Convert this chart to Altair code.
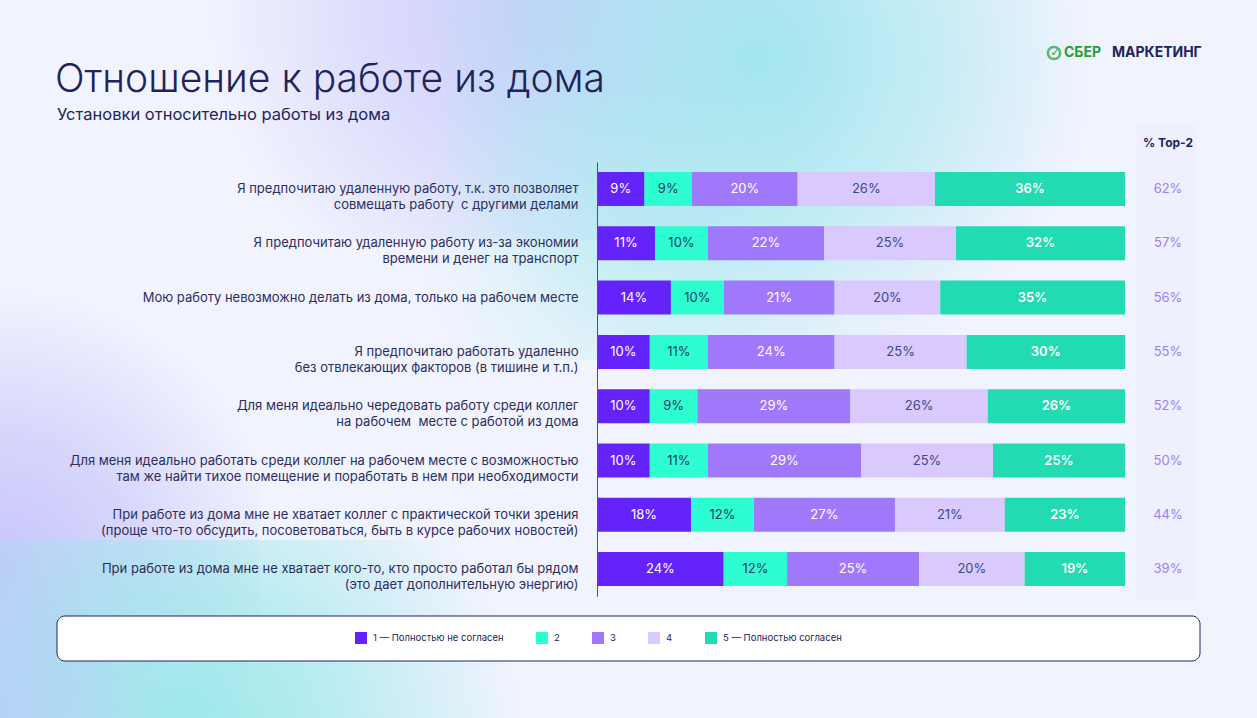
import altair as alt
import pandas as pd

# ---------------- data ----------------
statements = [
    "Я предпочитаю удаленную работу, т.к. это позволяет|совмещать работу\u00a0 с другими делами",
    "Я предпочитаю удаленную работу из-за экономии|времени и денег на транспорт",
    "Мою работу невозможно делать из дома, только на рабочем месте",
    "Я предпочитаю работать удаленно|без отвлекающих факторов (в тишине и т.п.)",
    "Для меня идеально чередовать работу среди коллег|на рабочем\u00a0 месте с работой из дома",
    "Для меня идеально работать среди коллег на рабочем месте с возможностью|там же найти тихое помещение и поработать в нем при необходимости",
    "При работе из дома мне не хватает коллег с практической точки зрения|(проще что-то обсудить, посоветоваться, быть в курсе рабочих новостей)",
    "При работе из дома мне не хватает кого-то, кто просто работал бы рядом|(это дает дополнительную энергию)",
]
answers = ["1 — Полностью не согласен", "2", "3", "4", "5 — Полностью согласен"]
s1 = [9, 11, 14, 10, 10, 10, 18, 24]
s2 = [9, 10, 10, 11, 9, 11, 12, 12]
s3 = [20, 22, 21, 24, 29, 29, 27, 25]
s4 = [26, 25, 20, 25, 26, 25, 21, 20]
s5 = [36, 32, 35, 30, 26, 25, 23, 19]
top2 = [62, 57, 56, 55, 52, 50, 44, 39]

colors = ["#6423fa", "#2dfdd0", "#a078fc", "#d9c9fd", "#23dbb2"]
text_colors = ["#ffffff", "#253a66", "#ffffff", "#3a4a8c", "#ffffff"]
NAVY = "#23235b"
LABEL = "#2e2e5e"
FONT = "Inter"

rows = []
for i, st in enumerate(statements):
    for k, series in enumerate([s1, s2, s3, s4, s5]):
        rows.append({"stmt": st, "answer": answers[k], "order": k,
                     "value": series[i], "tc": text_colors[k]})
df = pd.DataFrame(rows)
df_top = pd.DataFrame({"stmt": statements, "top2": top2})
one = pd.DataFrame({"a": [0]})

# ---------------- scales ----------------
yscale = alt.Scale(domain=statements, range=[161.85, 596.25],
                   paddingInner=0.374, paddingOuter=0.187)
xscale = alt.Scale(domain=[0, 1], range=[597, 1125])
cscale = alt.Scale(domain=answers, range=colors)

# ---------------- background ----------------
def blob(cx, cy, rx, ry, rgb, a):
    grad = alt.RadialGradient(
        gradient="radial",
        stops=[alt.GradientStop(offset=0, color=f"rgba({rgb},{a})"),
               alt.GradientStop(offset=0.5, color=f"rgba({rgb},{a * 0.6:.3f})"),
               alt.GradientStop(offset=1, color=f"rgba({rgb},0)")],
        x1=0.5, y1=0.5, r1=0, x2=0.5, y2=0.5, r2=0.5)
    return alt.Chart(one).mark_rect(fill=grad, strokeWidth=0).encode(
        x=alt.value(cx - rx), x2=alt.value(cx + rx),
        y=alt.value(cy - ry), y2=alt.value(cy + ry))

bg = [
    alt.Chart(one).mark_rect(fill="#f1f3fe").encode(
        x=alt.value(0), x2=alt.value(1257), y=alt.value(0), y2=alt.value(718)),
    blob(540, 10, 330, 230, "200,200,250", 0.9),
    blob(760, 60, 330, 300, "160,230,238", 0.95),
    blob(640, 230, 220, 130, "175,236,240", 0.5),
    blob(0, 570, 260, 280, "190,188,250", 0.85),
    blob(190, 740, 330, 200, "150,232,232", 0.95),
    blob(0, 718, 150, 150, "180,200,248", 0.6),
]

# top-2 column background
col_bg = alt.Chart(one).mark_rect(fill="#eef0fe").encode(
    x=alt.value(1137), x2=alt.value(1197), y=alt.value(125), y2=alt.value(600))

# legend box
legend_box = alt.Chart(one).mark_rect(
    fill="#ffffff", stroke=NAVY, strokeWidth=1, cornerRadius=8).encode(
    x=alt.value(57), x2=alt.value(1200), y=alt.value(616), y2=alt.value(661))

# titles
title = alt.Chart(one).mark_text(
    text="Отношение к работе из дома", font=FONT, fontSize=39, fontWeight=300,
    color=NAVY, align="left", baseline="alphabetic").encode(
    x=alt.value(55), y=alt.value(92))
subtitle = alt.Chart(one).mark_text(
    text="Установки относительно работы из дома", font=FONT, fontSize=16.5,
    fontWeight=400, color=NAVY, align="left", baseline="alphabetic").encode(
    x=alt.value(57), y=alt.value(120))

# logo
logo_icon = alt.Chart(one).mark_point(
    shape="circle", size=150, stroke="#21a038", strokeWidth=2.5, filled=False).encode(
    x=alt.value(1054), y=alt.value(53))
logo_check = alt.Chart(one).mark_text(
    text="✓", fontSize=11, fontWeight="bold", color="#21a038", font="DejaVu Sans").encode(
    x=alt.value(1055), y=alt.value(53))
logo_sber = alt.Chart(one).mark_text(
    text="СБЕР", font=FONT, fontSize=14, fontWeight=700, color="#21a038",
    align="left", baseline="middle").encode(x=alt.value(1064), y=alt.value(53))
logo_mkt = alt.Chart(one).mark_text(
    text="МАРКЕТИНГ", font=FONT, fontSize=14, fontWeight=700, color=NAVY,
    align="left", baseline="middle").encode(x=alt.value(1112), y=alt.value(53))

top2_header = alt.Chart(one).mark_text(
    text="% Top-2", font=FONT, fontSize=12, fontWeight="bold", color=NAVY,
    align="center", baseline="middle").encode(x=alt.value(1168), y=alt.value(143))

# ---------------- bars ----------------
base = alt.Chart(df).transform_stack(
    stack="value", as_=["v0", "v1"], groupby=["stmt"],
    sort=[alt.SortField("order")], offset="normalize"
).transform_calculate(mid="(datum.v0 + datum.v1) / 2",
                      lbl="datum.value + '%'")

yaxis = alt.Axis(title=None, domainColor="#6a2cf5", domainWidth=1, zindex=1,
                 ticks=False, grid=False, labelFont=FONT,
                 labelFontSize=13, labelColor=LABEL, labelPadding=19,
                 labelLineHeight=16, labelLimit=0, offset=-597,
                 labelExpr="split(datum.label, '|')")

bars = base.mark_bar(strokeWidth=0).encode(
    x=alt.X("v0:Q", scale=xscale, axis=None),
    x2="v1:Q",
    y=alt.Y("stmt:N", scale=yscale, sort=statements, axis=yaxis),
    color=alt.Color("answer:N", scale=cscale, sort=answers,
                    legend=alt.Legend(
                        title=None, orient="none", legendX=355, legendY=632,
                        direction="horizontal", symbolType="square",
                        symbolSize=144, symbolStrokeWidth=0, labelFont=FONT,
                        labelFontSize=9.5, labelColor=NAVY, labelOffset=6,
                        columnPadding=32)),
)

seg_text = base.transform_filter("datum.order < 4").mark_text(
    font=FONT, fontSize=13, baseline="middle", align="center").encode(
    x=alt.X("mid:Q", scale=xscale, axis=None),
    y=alt.Y("stmt:N", scale=yscale, sort=statements, axis=yaxis),
    text="lbl:N",
    color=alt.Color("tc:N", scale=None),
)
seg_text5 = base.transform_filter("datum.order == 4").mark_text(
    font=FONT, fontSize=13, fontWeight=600, baseline="middle", align="center").encode(
    x=alt.X("mid:Q", scale=xscale, axis=None),
    y=alt.Y("stmt:N", scale=yscale, sort=statements, axis=yaxis),
    text="lbl:N",
    color=alt.Color("tc:N", scale=None),
)

top_text = alt.Chart(df_top).transform_calculate(lbl="datum.top2 + '%'").mark_text(
    font=FONT, fontSize=13, color="#a07cf7", align="center", baseline="middle").encode(
    x=alt.value(1168),
    y=alt.Y("stmt:N", scale=yscale, sort=statements, axis=yaxis),
    text="lbl:N",
)

chart = alt.layer(
    *bg, col_bg, legend_box, title, subtitle, logo_icon, logo_check, logo_sber,
    logo_mkt, top2_header, bars, seg_text, seg_text5, top_text
).properties(
    width=1257, height=718, autosize="none", padding=0, background="#f1f3fe"
).configure_view(stroke=None)

chart.save("out.html", embed_options={"renderer": "svg", "actions": False})
